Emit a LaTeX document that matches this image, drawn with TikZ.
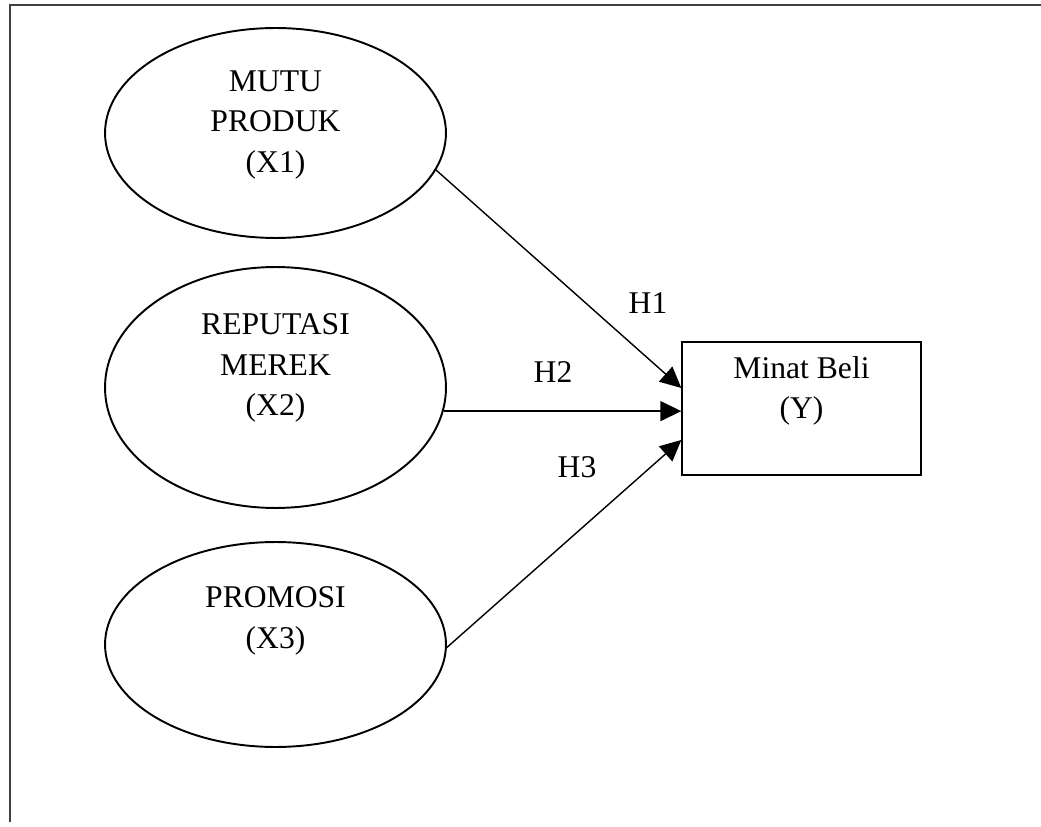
\documentclass[tikz,border=0pt]{standalone}
\usepackage{fontspec}
\setmainfont{Liberation Serif}
\usepackage{tikz}
\usetikzlibrary{arrows.meta,positioning,shapes.geometric}

\begin{document}
\begin{tikzpicture}[
  x=0.02cm, y=-0.02cm,
  txt/.style={align=center, inner sep=0pt, font=\fontsize{18}{23}\selectfont},
  latent/.style={draw, ellipse, line width=1.1pt, minimum width=6.82cm, inner sep=0pt},
  target/.style={draw, line width=0.8pt, minimum width=4.78cm, minimum height=2.66cm, inner sep=0pt},
  arrow/.style={-{Triangle[length=0.42cm, width=0.4cm]}, line width=0.8pt}
]
\useasboundingbox (0,0) rectangle (1041,827);
% frame
\draw[line width=1.2pt, black!75] (10,822) -- (10,5) -- (1041,5);

\node[latent, minimum height=4.2cm] (e1) at (275.5,133) {};
\node[latent, minimum height=4.82cm] (e2) at (275.5,387.5) {};
\node[latent, minimum height=4.1cm] (e3) at (275.5,644.5) {};
\node[target] (y) at (801.5,408.5) {};

\node[txt] (t1) at (275.5,125) {MUTU\\PRODUK\\(X1)};
\node[txt] (t2) at (275.5,368) {REPUTASI\\MEREK\\(X2)};
\node[txt] (t3) at (275.5,621) {PROMOSI\\(X3)};
\node[txt] (ty) at (801.5,391) {Minat Beli\\(Y)};

\node[txt] (h1) at (648,303) {H1};
\node[txt] (h2) at (553,372) {H2};
\node[txt] (h3) at (577,467) {H3};

\draw[arrow] (e1.-13) -- ([yshift=0.41cm]y.west);
\draw[arrow] (e2.-8) -- (e2.-8 -| y.west);
\draw[arrow] (e3.-1) -- ([yshift=-0.63cm]y.west);
\end{tikzpicture}
\end{document}
